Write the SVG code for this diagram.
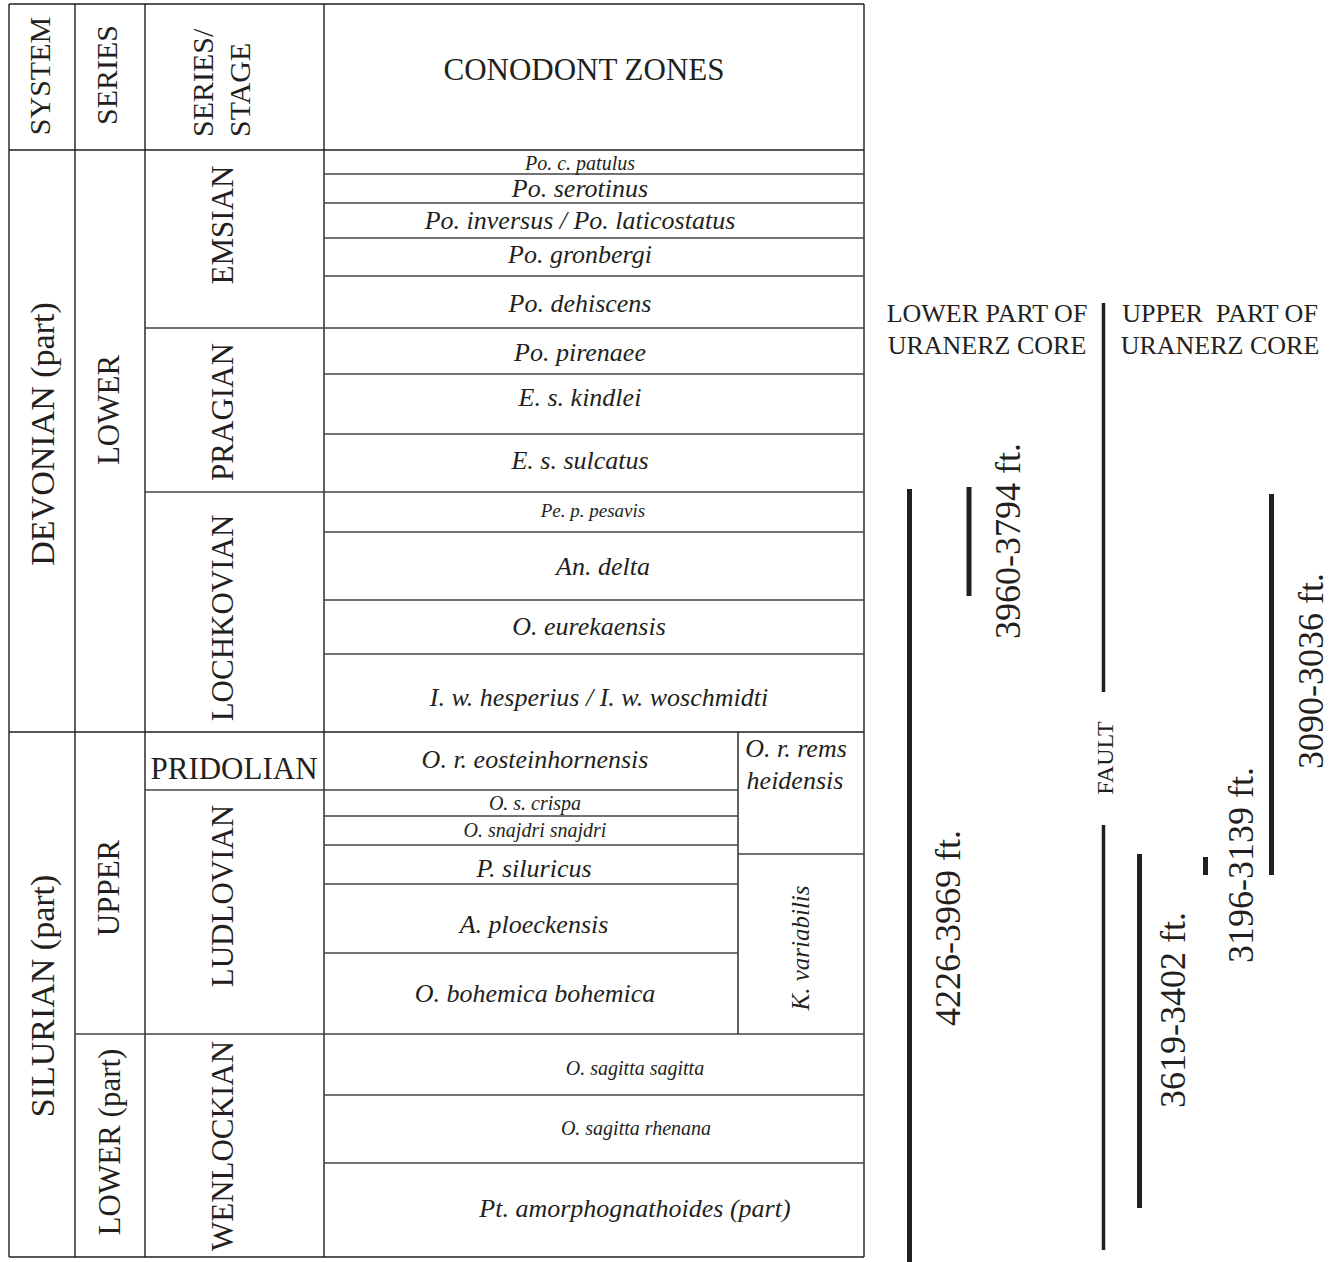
<svg xmlns="http://www.w3.org/2000/svg" width="1338" height="1262" viewBox="0 0 1338 1262">
<style>
.t{font-family:"Liberation Serif","Times New Roman",serif;fill:#231f20}
.i{font-style:italic;text-anchor:middle}
.m{text-anchor:middle}
.v{stroke:#231f20;stroke-width:1.4;fill:none}
.h{stroke:#444;stroke-width:1.3;fill:none}
.bar{stroke:#231f20;stroke-width:5;fill:none}
.flt{stroke:#231f20;stroke-width:3.5;fill:none}
</style>
<rect width="1338" height="1262" fill="#fff"/>
<g id="table-lines">
<path class="v" d="M9 4V1257M75 4V1257M145 4V1257M324 4V1257M864 4V1257M738 732V1034"/>
<path class="v" d="M9 4H864M9 150H864M9 732H864M9 1257H864"/>
<path class="h" d="M324 174H864M324 203H864M324 238H864M324 276H864M145 328H864M324 374H864M324 434H864M145 492H864M324 532H864M324 600H864M324 654H864"/>
<path class="h" d="M145 790H738M324 816H738M324 845H738M324 884H738M324 953H738M738 854H864M75 1034H864M324 1095H864M324 1163H864"/>
</g>
<g id="headers" class="t" font-size="30">
<text transform="translate(50,76) rotate(-90)" class="m">SYSTEM</text>
<text transform="translate(117,75) rotate(-90)" class="m">SERIES</text>
<text transform="translate(213,137) rotate(-90)">SERIES/</text>
<text transform="translate(250,137) rotate(-90)">STAGE</text>
<text x="584" y="80" class="m" font-size="31">CONODONT ZONES</text>
</g>
<g id="systems" class="t" font-size="34">
<text transform="translate(54,434) rotate(-90)" class="m">DEVONIAN (part)</text>
<text transform="translate(54,996) rotate(-90)" class="m">SILURIAN (part)</text>
</g>
<g id="series" class="t" font-size="31">
<text transform="translate(119,410) rotate(-90)" class="m">LOWER</text>
<text transform="translate(119,888) rotate(-90)" class="m">UPPER</text>
<text transform="translate(120,1142) rotate(-90)" class="m">LOWER (part)</text>
</g>
<g id="stages" class="t" font-size="31">
<text transform="translate(233,225) rotate(-90)" class="m">EMSIAN</text>
<text transform="translate(233,412) rotate(-90)" class="m">PRAGIAN</text>
<text transform="translate(233,618) rotate(-90)" class="m">LOCHKOVIAN</text>
<text x="234" y="779" class="m">PRIDOLIAN</text>
<text transform="translate(233,896) rotate(-90)" class="m">LUDLOVIAN</text>
<text transform="translate(233,1146) rotate(-90)" class="m">WENLOCKIAN</text>
</g>
<g id="zones" class="t" font-size="26">
<text x="580" y="170" class="i" font-size="20">Po. c. patulus</text>
<text x="580" y="197" class="i">Po. serotinus</text>
<text x="580" y="229" class="i">Po. inversus / Po. laticostatus</text>
<text x="580" y="263" class="i">Po. gronbergi</text>
<text x="580" y="312" class="i">Po. dehiscens</text>
<text x="580" y="361" class="i">Po. pirenaee</text>
<text x="580" y="406" class="i">E. s. kindlei</text>
<text x="580" y="469" class="i">E. s. sulcatus</text>
<text x="593" y="517" class="i" font-size="19">Pe. p. pesavis</text>
<text x="603" y="575" class="i">An. delta</text>
<text x="589" y="635" class="i">O. eurekaensis</text>
<text x="599" y="706" class="i">I. w. hesperius / I. w. woschmidti</text>
<text x="535" y="768" class="i">O. r. eosteinhornensis</text>
<text x="796" y="757" class="i">O. r. rems</text>
<text x="795" y="789" class="i">heidensis</text>
<text x="535" y="810" class="i" font-size="20">O. s. crispa</text>
<text x="535" y="837" class="i" font-size="20">O. snajdri snajdri</text>
<text x="534" y="877" class="i">P. siluricus</text>
<text x="534" y="933" class="i">A. ploeckensis</text>
<text x="535" y="1002" class="i">O. bohemica bohemica</text>
<text transform="translate(809,948) rotate(-90)" class="i" font-size="25">K. variabilis</text>
<text x="635" y="1075" class="i" font-size="20">O. sagitta sagitta</text>
<text x="636" y="1135" class="i" font-size="20">O. sagitta rhenana</text>
<text x="635" y="1217" class="i" font-size="26">Pt. amorphognathoides (part)</text>
</g>
<g id="core-headings" class="t" font-size="26">
<text x="987" y="322" class="m">LOWER PART OF</text>
<text x="987" y="354" class="m">URANERZ CORE</text>
<text x="1220" y="322" class="m" xml:space="preserve">UPPER  PART OF</text>
<text x="1220" y="354" class="m">URANERZ CORE</text>
</g>
<g id="fault">
<path class="flt" d="M1103.5 303V692M1103.5 825V1250"/>
<text transform="translate(1113,758) rotate(-90)" class="t m" font-size="24">FAULT</text>
</g>
<g id="core-intervals">
<path class="bar" d="M909.5 489V1262M969 487V596M1139.5 854V1208M1205.5 857V875M1271.5 494V875"/>
<g class="t" font-size="36">
<text transform="translate(960,928) rotate(-90)" class="m">4226-3969 ft.</text>
<text transform="translate(1020,541) rotate(-90)" class="m">3960-3794 ft.</text>
<text transform="translate(1185,1010) rotate(-90)" class="m">3619-3402 ft.</text>
<text transform="translate(1253,865) rotate(-90)" class="m">3196-3139 ft.</text>
<text transform="translate(1323,671) rotate(-90)" class="m">3090-3036 ft.</text>
</g>
</g>
</svg>
